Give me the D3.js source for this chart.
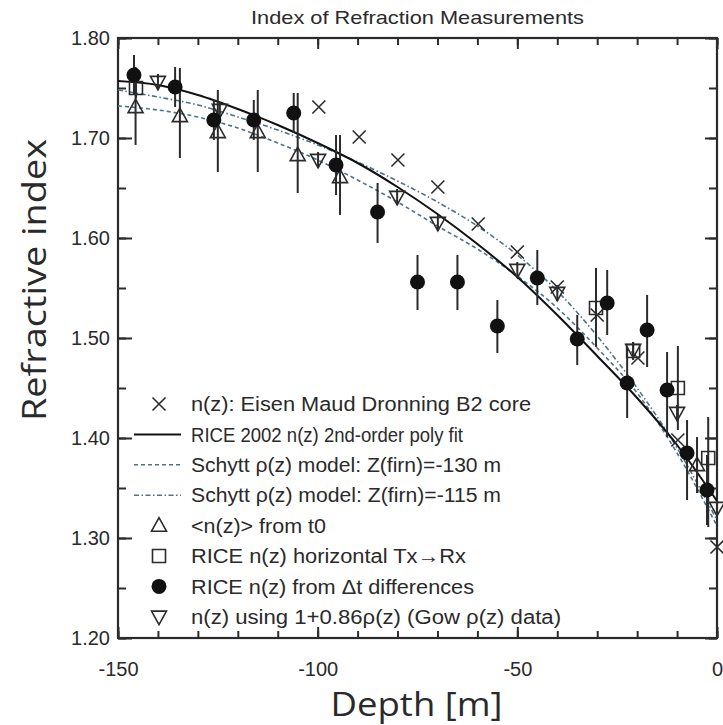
<!DOCTYPE html>
<html><head><meta charset="utf-8">
<script src="https://cdn.jsdelivr.net/npm/d3@7"></script>
<style>
html,body{margin:0;padding:0;background:#fff;}
svg{display:block;}
text{font-family:"Liberation Sans",Arial,Helvetica,sans-serif;fill:#2a2a2a;}
</style></head>
<body>
<svg id="c" width="723" height="725"></svg>
<script>
// ---------- data (depth z [m], refractive index n) ----------
const titleText = "Index of Refraction Measurements";
const xLabel = "Depth [m]";
const yLabel = "Refractive index";
const xTickLabels = [-150, -100, -50, 0];
const yTickLabels = [1.20, 1.30, 1.40, 1.50, 1.60, 1.70, 1.80];

// Eisen Maud Dronning B2 core (x marks)
const eisen = [[-99.7,1.731],[-89.6,1.701],[-79.9,1.678],[-69.9,1.651],[-59.8,1.614],[-50,1.586],[-40,1.551],[-30,1.523],[-19.8,1.480],[-9.8,1.398],[0,1.291]];
// RICE 2002 2nd-order poly fit (solid)
const riceFit = [[-150,1.757],[-140,1.753],[-130,1.743],[-120,1.729],[-110,1.713],[-100,1.695],[-90,1.675],[-80,1.651],[-70,1.624],[-60,1.594],[-50,1.561],[-40,1.523],[-30,1.482],[-20,1.440],[-10,1.393],[0,1.337]];
// Schytt model, Z(firn) = -130 m (dashed)
const schytt130 = [[-150,1.732],[-140,1.728],[-130,1.721],[-120,1.710],[-110,1.695],[-100,1.678],[-90,1.658],[-80,1.636],[-70,1.612],[-60,1.589],[-50,1.562],[-40,1.530],[-30,1.490],[-20,1.445],[-10,1.385],[0,1.312]];
// Schytt model, Z(firn) = -115 m (dash-dot)
const schytt115 = [[-150,1.748],[-140,1.741],[-130,1.733],[-120,1.721],[-110,1.708],[-100,1.693],[-90,1.676],[-80,1.657],[-70,1.636],[-60,1.612],[-50,1.583],[-40,1.547],[-30,1.502],[-20,1.450],[-10,1.390],[0,1.318]];
// <n(z)> from t0 (open up-triangles): z, n, low, high
const fromT0 = [[-145.6,1.731,1.693,1.771],[-134.5,1.722,1.680,1.770],[-125,1.706,1.666,1.748],[-115,1.706,1.666,1.748],[-105,1.683,1.645,1.745],[-94.4,1.661,1.623,1.703],[-5,1.373,1.345,1.401]];
// RICE horizontal Tx->Rx (open squares): z, n, low, high
const horiz = [[-145.5,1.750,1.740,1.760],[-30.3,1.530,1.491,1.570],[-21,1.487,1.478,1.496],[-9.8,1.450,1.408,1.492],[-2.2,1.380,1.311,1.421]];
// RICE from Delta-t differences (filled circles): z, n, low, high
const deltaT = [[-146,1.763,1.743,1.783],[-135.7,1.751,1.731,1.771],[-126,1.718,1.698,1.738],[-116,1.718,1.698,1.738],[-106,1.725,1.705,1.745],[-95.4,1.673,1.643,1.703],[-85,1.626,1.595,1.655],[-75,1.556,1.528,1.583],[-65,1.556,1.528,1.583],[-55,1.512,1.485,1.538],[-45,1.560,1.533,1.588],[-35,1.499,1.473,1.523],[-27.5,1.535,1.503,1.568],[-22.5,1.455,1.420,1.490],[-17.5,1.508,1.471,1.543],[-12.5,1.448,1.401,1.486],[-7.5,1.385,1.338,1.418],[-2.5,1.348,1.313,1.383]];
// n(z) using 1+0.86 rho(z), Gow data (open down-triangles): z, n, low, high
const gow = [[-140,1.756,1.748,1.764],[-124.5,1.728,1.720,1.736],[-99.9,1.678,1.670,1.686],[-80.1,1.641,1.633,1.649],[-69.9,1.615,1.607,1.623],[-50,1.568,1.560,1.576],[-40,1.545,1.537,1.553],[-21,1.488,1.480,1.496],[-10,1.425,1.417,1.433],[0,1.330,1.322,1.338]];

const legendLabels = [
  "n(z): Eisen Maud Dronning B2 core",
  "RICE 2002 n(z) 2nd-order poly fit",
  "Schytt \u03C1(z) model: Z(firn)=-130 m",
  "Schytt \u03C1(z) model: Z(firn)=-115 m",
  "<n(z)> from t0",
  "RICE n(z) horizontal Tx\u2192Rx",
  "RICE n(z) from \u0394t differences",
  "n(z) using 1+0.86\u03C1(z) (Gow \u03C1(z) data)"
];
const legendWidths = [340, 272, 310, 310, 135, 275, 283, 370];

// ---------- layout ----------
const L = 118, R = 717, T = 38, B = 638;
const svg = d3.select("#c");
const x = d3.scaleLinear().domain([-150, 0]).range([L, R]);
const y = d3.scaleLinear().domain([1.2, 1.8]).range([B, T]);
const ink = "#2b2b2b", dashCol = "#4f7384";

// ticks
const xMinor = d3.range(-150, 1, 10), yMinor = d3.range(0, 13).map(i => +(1.2 + i * 0.05).toFixed(2));
function axisG(gen, tr) { const g = svg.append("g").attr("transform", tr).call(gen); g.select(".domain").remove(); g.selectAll("line").attr("stroke", ink).attr("stroke-width", 2); return g; }
axisG(d3.axisBottom(x).tickValues(xMinor).tickSize(-7).tickFormat(""), `translate(0,${B})`);
axisG(d3.axisTop(x).tickValues(xMinor).tickSize(-7).tickFormat(""), `translate(0,${T})`);
axisG(d3.axisLeft(y).tickValues(yMinor).tickSize(-8).tickFormat(""), `translate(${L},0)`);
axisG(d3.axisRight(y).tickValues(yMinor).tickSize(-8).tickFormat(""), `translate(${R},0)`);
axisG(d3.axisTop(x).tickValues(xTickLabels).tickSize(-11).tickFormat(""), `translate(0,${T})`);
axisG(d3.axisRight(y).tickValues(yTickLabels).tickSize(-12).tickFormat(""), `translate(${R},0)`);
const gx = axisG(d3.axisBottom(x).tickValues(xTickLabels).tickSize(-11).tickPadding(24).tickFormat(d => String(d)), `translate(0,${B})`);
const gy = axisG(d3.axisLeft(y).tickValues(yTickLabels).tickSize(-14).tickPadding(8).tickFormat(d => d.toFixed(2)), `translate(${L},0)`);
svg.selectAll(".tick text").attr("font-size", 20).attr("fill", ink).attr("font-family", "Liberation Sans, Arial, sans-serif");
gx.selectAll(".tick text").attr("dy", "0.7em");

// frame
svg.append("rect").attr("x", L).attr("y", T).attr("width", R - L).attr("height", B - T)
  .attr("fill", "none").attr("stroke", ink).attr("stroke-width", 2.2);

// curves
const line = d3.line().x(d => x(d[0])).y(d => y(d[1])).curve(d3.curveMonotoneX);
svg.append("path").datum(schytt130).attr("d", line).attr("fill", "none").attr("stroke", dashCol).attr("stroke-width", 1.6).attr("stroke-dasharray", "4,3");
svg.append("path").datum(schytt115).attr("d", line).attr("fill", "none").attr("stroke", dashCol).attr("stroke-width", 1.6).attr("stroke-dasharray", "5,2.5,1.5,2.5");
svg.append("path").datum(riceFit).attr("d", line).attr("fill", "none").attr("stroke", "#111").attr("stroke-width", 2);

// error bars
function bars(data) {
  svg.append("g").selectAll("line").data(data).join("line")
    .attr("x1", d => x(d[0])).attr("x2", d => x(d[0]))
    .attr("y1", d => y(d[2])).attr("y2", d => y(d[3]))
    .attr("stroke", ink).attr("stroke-width", 2);
}
[fromT0, horiz, deltaT, gow].forEach(bars);

// marker shapes (relative to the point)
const shp = {
  times: s => `M${-s},${-s}L${s},${s}M${-s},${s}L${s},${-s}`,
  up: s => `M0,${-s * 1.05}L${s},${s * 0.75}L${-s},${s * 0.75}Z`,
  down: s => `M0,${s * 1.05}L${s},${-s * 0.75}L${-s},${-s * 0.75}Z`,
  square: s => `M${-s},${-s}H${s}V${s}H${-s}Z`
};
function markers(data, path, opts) {
  svg.append("g").selectAll("path").data(data).join("path")
    .attr("transform", d => `translate(${x(d[0])},${y(d[1])})`)
    .attr("d", path).attr("fill", opts.fill || "none").attr("stroke", ink).attr("stroke-width", opts.sw || 1.6);
}
markers(eisen, shp.times(6.5), {});
markers(fromT0, shp.up(7.5), {});
markers(horiz, shp.square(6.5), {});
markers(gow, shp.down(7.5), {});
svg.append("g").selectAll("circle").data(deltaT).join("circle")
  .attr("cx", d => x(d[0])).attr("cy", d => y(d[1])).attr("r", 7.5).attr("fill", "#111");

// legend
const lg = svg.append("g");
const rowY = i => 404 + i * 30.4, symX = 159, txtX = 191;
legendLabels.forEach((t, i) => {
  lg.append("text").attr("x", txtX).attr("y", rowY(i)).attr("dy", "0.36em").attr("font-size", 20)
    .attr("fill", i === 2 ? "#6a6a6a" : ink)
    .attr("textLength", legendWidths[i]).attr("lengthAdjust", "spacingAndGlyphs").text(t);
});
lg.append("path").attr("transform", `translate(${symX},${rowY(0)})`).attr("d", shp.times(6.5)).attr("stroke", ink).attr("stroke-width", 1.6);
lg.append("line").attr("x1", 134).attr("x2", 181).attr("y1", rowY(1)).attr("y2", rowY(1)).attr("stroke", "#111").attr("stroke-width", 2);
lg.append("line").attr("x1", 134).attr("x2", 181).attr("y1", rowY(2)).attr("y2", rowY(2)).attr("stroke", dashCol).attr("stroke-width", 1.5).attr("stroke-dasharray", "4,3");
lg.append("line").attr("x1", 134).attr("x2", 181).attr("y1", rowY(3)).attr("y2", rowY(3)).attr("stroke", dashCol).attr("stroke-width", 1.5).attr("stroke-dasharray", "5,2.5,1.5,2.5");
lg.append("path").attr("transform", `translate(${symX},${rowY(4)})`).attr("d", shp.up(7.5)).attr("fill", "none").attr("stroke", ink).attr("stroke-width", 1.6);
lg.append("path").attr("transform", `translate(${symX},${rowY(5)})`).attr("d", shp.square(6.5)).attr("fill", "none").attr("stroke", ink).attr("stroke-width", 1.6);
lg.append("circle").attr("cx", symX).attr("cy", rowY(6)).attr("r", 7.5).attr("fill", "#111");
lg.append("path").attr("transform", `translate(${symX},${rowY(7)})`).attr("d", shp.down(7.5)).attr("fill", "none").attr("stroke", ink).attr("stroke-width", 1.6);

// titles
svg.append("text").attr("x", (L + R) / 2).attr("y", 24).attr("text-anchor", "middle").attr("font-size", 19)
  .attr("fill", "#333").attr("textLength", 333).attr("lengthAdjust", "spacingAndGlyphs").text(titleText);
svg.append("text").attr("x", (L + R) / 2 - 1).attr("y", 716).attr("text-anchor", "middle")
  .style("font-family", "'Open Sans', Lato, sans-serif")
  .attr("font-size", 32).attr("fill", "#000").attr("textLength", 172).attr("lengthAdjust", "spacingAndGlyphs").text(xLabel);
svg.append("text").attr("transform", `translate(46,280) rotate(-90)`).attr("text-anchor", "middle")
  .style("font-family", "'Open Sans', Lato, sans-serif")
  .attr("font-size", 32).attr("fill", "#000").attr("textLength", 282).attr("lengthAdjust", "spacingAndGlyphs").text(yLabel);
</script>
</body></html>
